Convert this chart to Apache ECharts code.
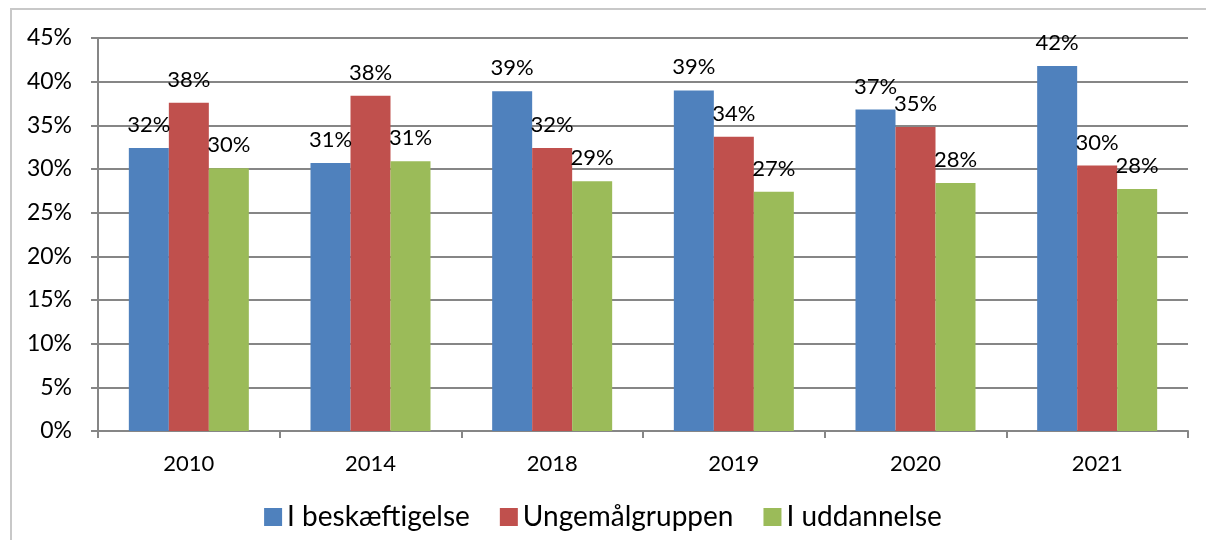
<!DOCTYPE html>
<html lang="da">
<head>
  <meta charset="UTF-8">
  <title>Andel fordelt på år</title>
  <style type="text/css">
    html, body { margin: 0; padding: 0; background: #fff; }
    #frame {
      position: absolute; left: 10px; top: 8px; width: 1210px; height: 540px;
      border: 2px solid #c8c8c8; box-sizing: border-box;
    }
    #main { position: absolute; left: 0; top: 0; width: 1206px; height: 540px; }
  </style>
</head>
<body>
  <div id="frame"></div>
  <div id="main"></div>
  <script type="text/javascript" src="https://cdn.jsdelivr.net/npm/echarts@6/dist/echarts.min.js"></script>
  <script type="text/javascript">
    var years = ['2010', '2014', '2018', '2019', '2020', '2021'];
    var beskaeftigelse = [32.4, 30.7, 38.9, 39.0, 36.8, 41.8];
    var ungemaalgruppen = [37.6, 38.4, 32.4, 33.7, 34.8, 30.4];
    var uddannelse = [30.1, 30.9, 28.6, 27.4, 28.4, 27.7];
    var seriesNames = ['I beskæftigelse', 'Ungemålgruppen', 'I uddannelse'];
    var colors = ['#4F81BD', '#C0504D', '#9BBB59'];

    var myChart = echarts.init(document.getElementById('main'));
    var font = 'Lato, "Open Sans", sans-serif';

    function bar(name, data, color) {
      return {
        name: name,
        type: 'bar',
        data: data,
        barWidth: 40,
        barGap: '0%',
        itemStyle: { color: color },
        label: {
          show: true,
          position: 'top',
          distance: 12,
          color: '#000',
          fontSize: 22,
          fontFamily: font,
          formatter: function (p) { return Math.round(p.value) + '%'; }
        }
      };
    }

    var option = {
      animation: false,
      color: colors,
      grid: { left: 98, right: 18, top: 38, bottom: 109 },
      legend: {
        data: seriesNames,
        bottom: 4,
        left: 'center',
        itemWidth: 18,
        itemHeight: 18,
        itemGap: 30,
        icon: 'rect',
        textStyle: { fontSize: 28, fontFamily: font, color: '#000' }
      },
      xAxis: {
        type: 'category',
        data: years,
        axisLine: { lineStyle: { color: '#868686', width: 2 } },
        axisTick: { show: true, length: 7, lineStyle: { color: '#868686', width: 2 } },
        axisLabel: { fontSize: 22, fontFamily: font, color: '#000', margin: 22 }
      },
      yAxis: {
        type: 'value',
        min: 0,
        max: 45,
        interval: 5,
        axisLine: { show: true, lineStyle: { color: '#868686', width: 2 } },
        axisTick: { show: true, length: 7, lineStyle: { color: '#868686', width: 2 } },
        splitLine: { lineStyle: { color: '#868686', width: 2 } },
        axisLabel: {
          fontSize: 23, fontFamily: font, color: '#000', margin: 26,
          formatter: '{value}%'
        }
      },
      series: [
        bar(seriesNames[0], beskaeftigelse, colors[0]),
        bar(seriesNames[1], ungemaalgruppen, colors[1]),
        bar(seriesNames[2], uddannelse, colors[2])
      ]
    };
    myChart.setOption(option);
  </script>
</body>
</html>
